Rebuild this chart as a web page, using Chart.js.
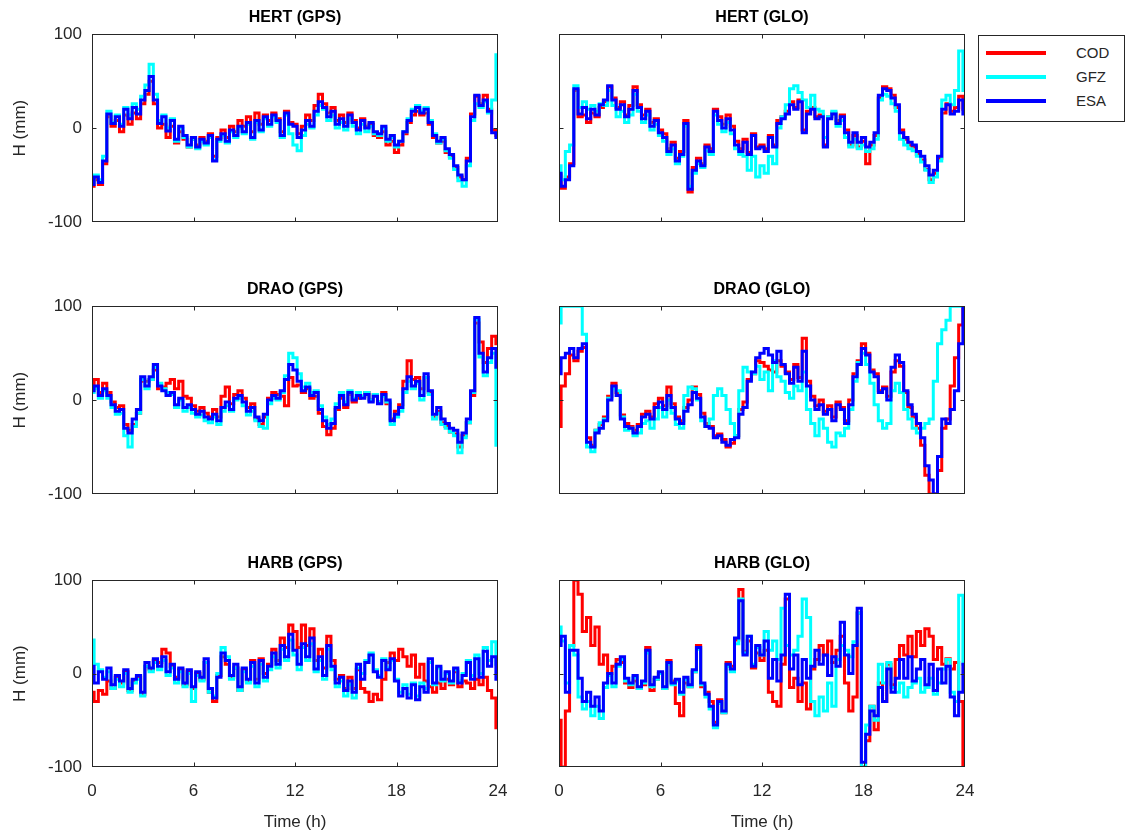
<!DOCTYPE html>
<html>
<head>
<meta charset="utf-8">
<title>Station height residuals</title>
<script src="https://cdn.jsdelivr.net/npm/chart.js@4.4.1/dist/chart.umd.min.js"></script>
<style>
  html, body { margin: 0; padding: 0; background: #fff; }
  body { width: 1129px; height: 839px; position: relative; overflow: hidden; font-family: 'Liberation Sans', Arial, sans-serif; }
  canvas.panel { position: absolute; }
  #legend { position: absolute; left: 978px; top: 35px; width: 145px; height: 85px; border: 1px solid #262626; background: #fff; z-index: 2; }
  #legend .item { position: absolute; left: 7px; width: 136px; height: 20px; }
  #legend .swatch { position: absolute; left: 0; top: 8px; width: 60px; height: 4px; }
  #legend .label { position: absolute; left: 90px; top: 1px; font-size: 15px; line-height: 18px; color: #262626; }
</style>
</head>
<body>
<div id="legend"></div>
<script>
// ===== HEIGHT RESIDUALS, 3 STATIONS x 2 CONSTELLATIONS =====
// every series is sampled each 15 min over the day (97 values, 0..24 h)
const STEP_H = 0.25;
const HOUR_TICKS = [0, 6, 12, 18, 24];
const H_TICKS = [-100, 0, 100];
const CENTRES = ['COD', 'GFZ', 'ESA'];
const COLOURS = { COD: '#ff0000', GFZ: '#00ffff', ESA: '#0000ff' };

// HERT (GPS)
const hertGpsCod = [
  -62, -55, -60, -38, 12, 2, 8, -4, 14, 4, 16, 10, 26, 36, 50, 26,
  0, 4, -10, 2, -16, -4, -12, -20, -12, -18, -10, -14, -6, -30, -10, -2,
  -10, 2, -4, 8, 2, 12, -4, 16, 4, 14, 8, 16, 10, -4, 18, 6,
  4, -6, 2, 14, 8, 24, 36, 26, 16, 22, 8, 14, 6, 16, 8, 0,
  10, 2, 4, -8, -10, -4, -18, -14, -26, -18, -6, 6, 14, 18, 14, 16,
  4, -10, -16, -14, -26, -30, -42, -52, -55, -32, 15, 34, 26, 35, 20, -2,
  -8];
const hertGpsGfz = [
  -58, -50, -55, -30, 18, 6, 14, 4, 22, 14, 26, 20, 34, 46, 68, 36,
  8, 14, 0, 10, -14, 0, -10, -20, -12, -22, -14, -18, -10, -34, -14, -8,
  -16, -4, -10, 0, -6, 4, -12, 6, -4, 10, 2, 12, 6, -10, 14, -6,
  -18, -24, -8, 4, 0, 14, 24, 20, 8, 14, 0, 6, -2, 10, 2, -6,
  4, -4, 2, -6, -8, 0, -14, -10, -20, -14, -4, 10, 20, 24, 18, 22,
  8, -6, -16, -12, -24, -32, -44, -56, -62, -40, 8, 26, 22, 28, 16, 30,
  78];
const hertGpsEsa = [
  -60, -52, -58, -35, 15, 5, 12, 2, 20, 10, 22, 15, 30, 40, 55, 30,
  5, 12, -3, 8, -12, 2, -8, -18, -10, -20, -12, -16, -8, -35, -12, -6,
  -14, -2, -8, 2, -4, 6, -10, 8, -2, 12, 4, 14, 8, -8, 16, 4,
  2, -10, -2, 8, 2, 18, 28, 22, 12, 18, 4, 10, 2, 14, 6, -2,
  8, 0, 6, -4, -6, 2, -12, -8, -18, -14, -4, 8, 18, 22, 16, 20,
  6, -8, -14, -10, -22, -28, -40, -50, -55, -35, 12, 35, 24, 30, 18, -5,
  -10];

// HERT (GLO)
const hertGloCod = [
  -50, -64, -52, -38, 40, 12, 14, 6, 16, 12, 22, 28, 44, 32, 22, 28,
  14, 24, 44, 25, 14, 20, 6, 10, -2, -6, -22, -15, -32, -25, 8, -68,
  -42, -32, -38, -18, -22, 20, 12, 4, 14, 2, -14, -22, -12, -26, -6, -20,
  -18, -22, -8, -18, 8, 12, 18, 28, 22, 30, -2, 18, 22, 12, 14, -18,
  12, 16, 8, 14, -2, -18, -8, -20, -14, -38, -18, -8, 32, 44, 42, 35,
  22, -2, -12, -18, -20, -28, -34, -44, -55, -48, -32, 16, 26, 18, 22, 34,
  20];
const hertGloGfz = [
  -40, -55, -25, -18, 45, 22, 28, 20, 24, 18, 26, 24, 40, 24, 12, 18,
  6, 14, 36, 18, 6, 14, -2, 4, -8, -14, -28, -22, -38, -30, 2, -62,
  -48, -38, -42, -24, -28, 14, 4, -4, 6, -6, -22, -28, -30, -45, -30, -52,
  -40, -48, -30, -38, 0, 12, 25, 42, 45, 38, 30, 22, 35, 20, 18, -10,
  12, 18, 2, 8, -10, -20, -12, -22, -18, -25, -22, -12, 30, 36, 34, 26,
  18, -12, -18, -22, -24, -30, -36, -45, -58, -52, -35, 30, 35, 25, 40, 82,
  40];
const hertGloEsa = [
  -48, -62, -55, -40, 42, 15, 22, 10, 20, 14, 25, 30, 45, 30, 20, 25,
  12, 20, 40, 22, 10, 18, 2, 8, -5, -10, -25, -18, -35, -28, 5, -65,
  -45, -35, -40, -20, -25, 18, 8, 0, 10, -2, -18, -25, -15, -28, -8, -22,
  -20, -25, -10, -20, 5, 10, 15, 25, 20, 28, -5, 15, 20, 10, 12, -20,
  10, 15, 5, 12, -5, -15, -5, -15, -10, -20, -15, -5, 35, 42, 40, 32,
  25, -5, -10, -15, -18, -25, -30, -40, -50, -45, -30, 20, 25, 15, 18, 30,
  15];

// DRAO (GPS)
const draoGpsCod = [
  14, 22, 8, 18, 8, -2, -8, -6, -26, -32, -26, -14, 20, 20, 22, 32,
  12, 14, 18, 22, 12, 20, 4, 2, -6, -12, -8, -14, -18, -10, -18, 4,
  14, -4, 6, 10, 2, -8, -4, -20, -26, -18, 2, 8, 6, 4, -6, 24,
  15, 16, 8, 12, 2, 4, -14, -28, -37, -30, -10, 2, -8, 6, -2, 2,
  4, 8, 0, 6, -2, 8, -4, -20, -12, -5, 20, 42, 22, 24, 12, 24,
  8, -18, -12, -24, -28, -34, -36, -50, -38, -24, 5, 82, 62, 40, 55, 68,
  60];
const draoGpsGfz = [
  8, 12, 2, 10, 2, -8, -15, -14, -38, -50, -28, -14, 22, 12, 22, 35,
  18, 12, 8, 6, -8, 0, -12, -8, -14, -18, -16, -22, -24, -18, -26, -12,
  -6, -12, 0, 2, -6, -16, -12, -22, -28, -30, -4, 2, 0, 8, 26, 50,
  45, 28, 14, 18, 8, 10, -6, -18, -26, -20, -4, 8, -2, 10, 2, 8,
  4, 8, 0, 6, -2, 4, -2, -26, -18, -12, 8, 20, 12, 18, 0, 24,
  6, -20, -14, -26, -30, -34, -38, -56, -40, -24, 8, 86, 46, 26, 40, 50,
  -48];
const draoGpsEsa = [
  10, 15, 5, 12, 5, -5, -12, -10, -30, -35, -20, -10, 25, 15, 25, 38,
  15, 10, 5, 8, -5, 2, -8, -5, -10, -15, -12, -18, -20, -15, -22, -8,
  -2, -10, 2, 5, -2, -12, -8, -18, -22, -15, 0, 5, 2, 10, 22, 38,
  32, 20, 10, 14, 5, 8, -10, -22, -30, -25, -8, 5, -5, 8, 0, 5,
  2, 6, -2, 4, -4, 6, 0, -22, -15, -8, 12, 25, 15, 20, 5, 28,
  10, -15, -8, -20, -25, -30, -32, -45, -35, -20, 10, 88, 50, 30, 45, 55,
  35];

// DRAO (GLO)
const draoGloCod = [
  -28, 15, 28, 48, 42, 52, 56, -40, -48, -32, -26, -18, 4, 18, 8, -16,
  -25, -28, -32, -26, -15, -12, -18, -4, 2, -6, 14, -4, -18, -22, -8, 0,
  14, 6, -14, -25, -28, -38, -36, -42, -50, -46, -38, -10, -2, 22, 28, 42,
  40, 36, 32, 30, 42, 36, 30, 22, 38, 24, 66, 20, 4, -6, 0, -12,
  -6, -18, -2, -8, -22, 0, 28, 42, 60, 50, 32, 28, 10, 14, 4, 30,
  42, 36, 8, -8, -18, -30, -48, -80, -100, -100, -75, -30, -20, 15, 45, 80,
  100];
const draoGloGfz = [
  82, 100, 100, 100, 100, 100, 70, -50, -55, -32, -24, -20, 2, 12, 10, -18,
  -32, -30, -38, -35, -25, -22, -30, -20, -8, -18, 0, -14, -26, -30, 5, 14,
  12, 0, -22, -28, -20, 5, 12, 5, -10, -25, -38, 10, 35, 30, 28, 36,
  22, 30, 10, 42, 25, 20, 8, 2, 15, 10, 30, -10, -25, -38, -20, -30,
  -45, -50, -35, -38, -30, -10, 20, 40, 50, 38, 18, -5, -22, -30, -25, 10,
  18, 8, -10, -20, -30, -35, -30, -25, -20, 20, 60, 75, 85, 100, 100, 100,
  100];
const draoGloEsa = [
  28, 45, 50, 55, 45, 55, 60, -45, -50, -35, -30, -22, 0, 15, 5, -20,
  -28, -30, -35, -28, -18, -15, -20, -8, -2, -10, 5, -8, -20, -25, -12, -5,
  8, 2, -18, -28, -30, -40, -38, -45, -48, -42, -40, -15, -8, 20, 30, 45,
  50, 55, 48, 40, 52, 38, 28, 18, 35, 20, 52, 15, 0, -10, -5, -15,
  -10, -22, -5, -10, -25, -5, 25, 38, 55, 48, 30, 25, 8, 12, 0, 35,
  48, 40, 10, -5, -15, -25, -40, -70, -85, -100, -60, -20, -25, -10, 10, 60,
  100];

// HARB (GPS)
const harbGpsCod = [
  -20, -30, -18, -22, -8, -16, -4, -10, 2, -18, -8, -4, -22, 8, 4, 14,
  12, 26, 22, 8, -4, 4, -12, 2, -16, 0, -6, 12, -20, -30, -2, 18,
  10, -4, 6, -18, 4, -8, 14, -6, 16, 0, 10, 26, 14, 38, 28, 52,
  45, 28, 52, 30, 48, 14, 26, 6, 40, 14, -6, -2, -16, -4, -16, 4,
  -16, -20, -30, -22, -28, -6, 12, 22, 14, 26, 18, 8, 20, -4, 10, -8,
  -14, -20, -10, -16, -6, -12, 2, -14, -8, -10, -16, -6, -12, -4, -18, -26,
  -58];
const harbGpsGfz = [
  36, 10, 4, -4, 2, -16, -6, -14, 0, -20, -10, -6, -24, 8, 2, 12,
  4, 14, -2, 6, -10, 2, -14, 0, -30, -2, -8, 12, -20, -24, 0, 28,
  18, -6, 6, -18, 2, -10, 8, -14, 10, -8, 4, 18, 6, 26, 14, 36,
  20, 4, 28, 14, 32, 2, 14, -6, 26, 4, -14, -8, -24, -12, -26, 6,
  0, 14, 22, 4, -2, 16, 6, 14, -6, -20, -12, -22, -10, -24, -10, -16,
  12, -12, 6, -8, 0, -10, 4, -8, 0, 14, -2, 20, 0, 28, 14, 34,
  10];
const harbGpsEsa = [
  8, -10, 2, -6, 6, -12, -2, -8, 4, -16, -6, -2, -20, 12, 6, 16,
  8, 18, 2, 10, -6, 6, -10, 4, -14, 2, -4, 16, -16, -26, -4, 22,
  14, -2, 10, -14, 6, -6, 12, -10, 14, -4, 8, 22, 10, 30, 18, 42,
  25, 10, 32, 18, 38, 5, 18, -2, 30, 8, -10, -4, -18, -8, -20, 10,
  -6, 12, 20, 2, -4, 14, 4, 16, -8, -24, -16, -26, -12, -28, -14, -20,
  16, -10, 8, -6, 2, -8, 6, -10, -2, 12, -6, 16, -4, 24, 8, 18,
  -6];

// HARB (GLO)
const harbGloCod = [
  -50, -100, -40, 30, 100, 85, 45, 60, 30, 50, 10, 20, 0, 8, 15, 12,
  -10, -15, -8, -16, -12, 28, -18, -6, 0, -16, 14, -8, -32, -45, -10, -14,
  2, 30, -14, -20, -30, -52, -28, -42, 12, 8, 36, 90, 24, 35, 6, 22,
  14, 25, -20, -30, -35, 10, 80, -15, -5, -30, -10, -38, 5, 15, 30, 20,
  35, 12, 25, 40, -10, -40, -25, 65, -100, -72, -35, -60, -10, -30, 10, -12,
  15, 30, 20, 40, 18, 45, 30, 48, 40, 15, 28, 10, 16, 5, 12, -30,
  -100];
const harbGloGfz = [
  50, 35, -10, 30, 20, -25, -38, -30, -45, -35, -48, -15, -2, -14, 8, 15,
  -8, -12, -4, -16, -10, 22, -14, -6, 0, -16, 10, -12, -8, -22, -6, -14,
  2, 26, -12, -25, -38, -58, -32, -42, 8, 2, 32, 80, 22, 40, 10, 28,
  20, 45, 25, 35, 15, 70, 30, 20, 25, 40, 80, 60, -30, -45, -25, -40,
  -10, -35, 15, 30, 25, 18, 34, 65, -100, -55, -35, -50, 10, -10, 12, -15,
  -20, -10, -25, -15, -10, -5, -20, -15, -5, -22, -10, 5, 15, -20, -30, 84,
  10];
const harbGloEsa = [
  30, 40, -20, 25, 25, -5, -30, -20, -35, -25, -40, -10, 0, -10, 10, 18,
  -5, -10, -2, -14, -8, 25, -12, -4, 2, -14, 12, -10, -6, -20, -4, -12,
  4, 28, -10, -22, -35, -55, -30, -40, 10, 5, 38, 78, 20, 40, 8, 30,
  20, 35, -5, 15, -8, 20, 85, 5, 20, -12, 15, -5, 8, 25, 10, 20,
  -2, 18, 8, 55, 20, 0, 30, 70, -95, -65, -40, -45, -15, -30, 5, -20,
  -5, 15, -5, 18, -8, 5, 15, -12, 10, -18, 5, -10, 8, -25, -45, -20,
  10];

const panels = [
  { title: 'HERT (GPS)', row: 0, col: 0, series: { COD: hertGpsCod, GFZ: hertGpsGfz, ESA: hertGpsEsa } },
  { title: 'HERT (GLO)', row: 0, col: 1, series: { COD: hertGloCod, GFZ: hertGloGfz, ESA: hertGloEsa } },
  { title: 'DRAO (GPS)', row: 1, col: 0, series: { COD: draoGpsCod, GFZ: draoGpsGfz, ESA: draoGpsEsa } },
  { title: 'DRAO (GLO)', row: 1, col: 1, series: { COD: draoGloCod, GFZ: draoGloGfz, ESA: draoGloEsa } },
  { title: 'HARB (GPS)', row: 2, col: 0, series: { COD: harbGpsCod, GFZ: harbGpsGfz, ESA: harbGpsEsa } },
  { title: 'HARB (GLO)', row: 2, col: 1, series: { COD: harbGloCod, GFZ: harbGloGfz, ESA: harbGloEsa } },
];

// page grid (px). right padding covers the half-width of the "24" label + tick padding
const cellLeft = [0, 510], cellWidth = [522, 479], yAxisWidth = [92, 49], RIGHT_PAD = 24;
const cellTop = [0, 272, 546], cellHeight = [244, 244, 293], xAxisHeight = [22, 22, 72];

const FONT = "'Liberation Sans', Arial, Helvetica, sans-serif";
const INK = '#262626';

// matlab-like box with inward ticks on all four sides
const axesBox = {
    id: 'axesBox',
    afterDraw(chart) {
        const { ctx, chartArea: a, scales: { x, y } } = chart;
        const l = Math.round(a.left) + 0.5, r = Math.round(a.right) - 0.5;
        const t = Math.round(a.top) + 0.5, b = Math.round(a.bottom) - 0.5;
        ctx.save();
        ctx.strokeStyle = INK;
        ctx.lineWidth = 1;
        ctx.strokeRect(l, t, r - l, b - t);
        ctx.beginPath();
        HOUR_TICKS.slice(1, -1).forEach(h => {
            const px = Math.round(x.getPixelForValue(h)) + 0.5;
            ctx.moveTo(px, t); ctx.lineTo(px, t + 4);
            ctx.moveTo(px, b); ctx.lineTo(px, b - 4);
        });
        H_TICKS.slice(1, -1).forEach(v => {
            const py = Math.round(y.getPixelForValue(v)) + 0.5;
            ctx.moveTo(l, py); ctx.lineTo(l + 4, py);
            ctx.moveTo(r, py); ctx.lineTo(r - 4, py);
        });
        ctx.stroke();
        ctx.restore();
    }
};

function makePanel(p) {
    const canvas = document.createElement('canvas');
    canvas.className = 'panel';
    canvas.width = cellWidth[p.col];
    canvas.height = cellHeight[p.row];
    canvas.style.left = cellLeft[p.col] + 'px';
    canvas.style.top = cellTop[p.row] + 'px';
    document.body.appendChild(canvas);

    const bottomRow = p.row === 2, leftCol = p.col === 0;

    // ESA on top, COD underneath
    const datasets = CENTRES.map((name, k) => ({
        label: name,
        data: p.series[name].map((v, i) => ({ x: i * STEP_H, y: v })),
        borderColor: COLOURS[name],
        backgroundColor: COLOURS[name],
        borderWidth: 3,
        pointRadius: 0,
        stepped: 'middle',
        order: CENTRES.length - k,
    }));

    new Chart(canvas, {
        type: 'line',
        data: { datasets },
        options: {
            responsive: false,
            animation: false,
            events: [],
            layout: { padding: { top: 0, right: RIGHT_PAD, bottom: 0, left: 0 } },
            plugins: {
                legend: { display: false },
                tooltip: { enabled: false },
                title: {
                    display: true,
                    text: p.title,
                    fullSize: false,
                    color: '#000',
                    font: { family: FONT, size: 16, weight: 'bold' },
                    padding: { top: 8, bottom: 7 },
                },
            },
            scales: {
                x: {
                    type: 'linear',
                    min: 0, max: 24,
                    grid: { display: false, drawTicks: false },
                    border: { display: false },
                    ticks: {
                        display: bottomRow,
                        stepSize: 6,
                        maxRotation: 0,
                        autoSkip: false,
                        padding: 14,
                        color: INK,
                        font: { family: FONT, size: 17 },
                    },
                    title: {
                        display: bottomRow,
                        text: 'Time (h)',
                        color: INK,
                        font: { family: FONT, size: 17 },
                        padding: { top: 0, bottom: 6 },
                    },
                    afterFit: s => { s.height = xAxisHeight[p.row]; },
                },
                y: {
                    type: 'linear',
                    min: -100, max: 100,
                    grid: { display: false, drawTicks: false },
                    border: { display: false },
                    ticks: {
                        display: leftCol,
                        stepSize: 100,
                        padding: 10,
                        color: INK,
                        font: { family: FONT, size: 17 },
                    },
                    title: {
                        display: leftCol,
                        text: 'H (mm)',
                        color: INK,
                        font: { family: FONT, size: 17 },
                        padding: { top: 10, bottom: 0 },
                    },
                    afterFit: s => { s.width = yAxisWidth[p.col]; },
                },
            },
        },
        plugins: [axesBox],
    });
}

panels.forEach(makePanel);

// legend box
const legend = document.getElementById('legend');
CENTRES.forEach((name, k) => {
    const item = document.createElement('div');
    item.className = 'item';
    item.style.top = (7 + k * 24) + 'px';
    item.innerHTML = `<span class="swatch" style="background:${COLOURS[name]}"></span><span class="label">${name}</span>`;
    legend.appendChild(item);
});
</script>
</body>
</html>
